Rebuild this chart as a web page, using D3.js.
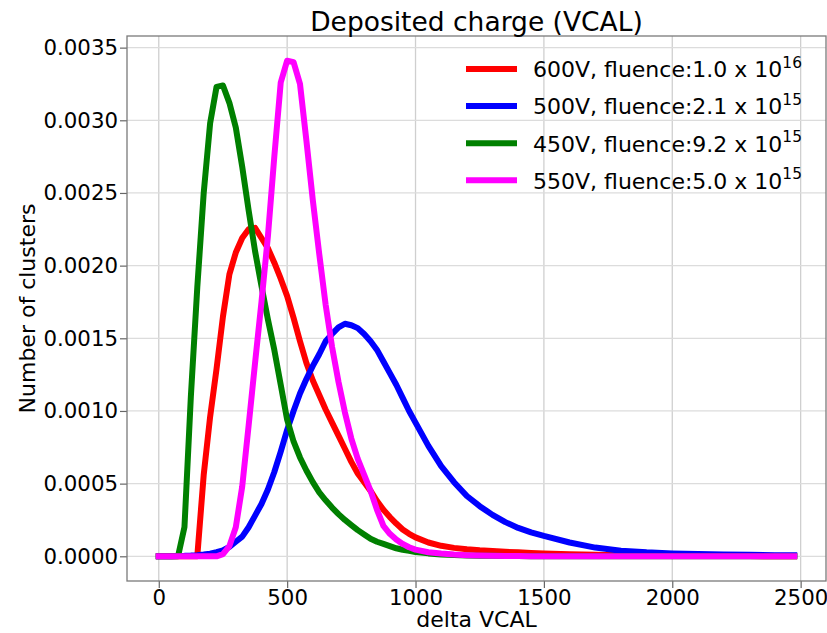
<!DOCTYPE html>
<html>
<head>
<meta charset="utf-8">
<script src="https://cdn.jsdelivr.net/npm/d3@7"></script>
<style>
  body { margin: 0; background: #fff; }
  svg text { font-family: "DejaVu Sans", sans-serif; fill: #000; }
</style>
</head>
<body>
<svg id="chart" width="827" height="633"></svg>
<script>
'use strict'

// delta VCAL sample points
const xBins = [0, 25, 50, 75, 100, 125, 150, 175, 200, 225, 250, 275, 300, 325, 350, 375, 400, 425, 450, 475,
  500, 525, 550, 575, 600, 625, 650, 675, 700, 725, 750, 775, 800, 825, 850, 875, 900, 925, 950, 975, 1000,
  1050, 1100, 1150, 1200, 1250, 1300, 1350, 1400, 1450, 1500,
  1600, 1700, 1800, 1900, 2000, 2100, 2200, 2300, 2400, 2475]

// number of clusters, in units of 1e-4
const v600 = [0, 0, 0, 0, 0, 0, 0, 5.6, 9.6, 12.9, 16.5, 19.4, 20.9, 21.9, 22.5, 22.6, 21.9, 21.2, 20.2, 19.1,
  17.9, 16.4, 14.8, 13.3, 12.1, 11.1, 10.1, 9.2, 8.3, 7.4, 6.5, 5.7, 5.1, 4.5, 3.8, 3.2, 2.7, 2.25, 1.85, 1.55, 1.3,
  0.95, 0.72, 0.58, 0.48, 0.41, 0.36, 0.31, 0.27, 0.23, 0.2,
  0.14, 0.1, 0.07, 0.05, 0.035, 0.025, 0.018, 0.012, 0.008, 0.006]
const v500 = [0, 0, 0.01, 0.02, 0.03, 0.05, 0.08, 0.12, 0.18, 0.28, 0.4, 0.65, 1.0, 1.35, 2.0, 2.8, 3.6, 4.6, 5.8, 7.2,
  8.7, 10.0, 11.2, 12.2, 13.1, 13.9, 14.8, 15.3, 15.75, 16.0, 15.9, 15.7, 15.3, 14.8, 14.2, 13.4, 12.6, 11.8, 10.9, 10.0, 9.2,
  7.6, 6.2, 5.1, 4.15, 3.45, 2.85, 2.35, 1.95, 1.65, 1.4,
  0.95, 0.6, 0.38, 0.27, 0.2, 0.15, 0.12, 0.1, 0.08, 0.07]
const v450 = [0, 0, 0, 0, 2.0, 11.0, 18.5, 25.0, 29.8, 32.3, 32.4, 31.2, 29.5, 26.8, 23.8, 21.0, 18.6, 16.3, 14.2, 11.8,
  9.4, 7.9, 6.8, 5.9, 5.1, 4.4, 3.85, 3.35, 2.9, 2.5, 2.15, 1.8, 1.5, 1.2, 1.0, 0.85, 0.7, 0.55, 0.45, 0.38, 0.3,
  0.2, 0.13, 0.09, 0.06, 0.04, 0.03, 0.02, 0.015, 0.01, 0.008,
  0.005, 0.003, 0.002, 0.001, 0.001, 0, 0, 0, 0, 0]
const v550 = [0, 0, 0, 0, 0, 0, 0, 0, 0, 0, 0.15, 0.7, 2.0, 4.8, 9.0, 13.3, 17.5, 22.0, 27.5, 32.6,
  34.1, 34.0, 32.5, 28.6, 24.5, 20.8, 17.3, 14.4, 12.0, 9.9, 8.1, 6.7, 5.6, 4.5, 3.2, 2.1, 1.55, 1.15, 0.85, 0.62, 0.46,
  0.28, 0.19, 0.12, 0.08, 0.05, 0.03, 0.02, 0.012, 0.008, 0.005,
  0.003, 0.002, 0.001, 0, 0, 0, 0, 0, 0, 0]

const seriesValues = [v600, v500, v450, v550]
const seriesLabels = ['600V, fluence:1.0 x 10', '500V, fluence:2.1 x 10', '450V, fluence:9.2 x 10', '550V, fluence:5.0 x 10']
const seriesExponents = ['16', '15', '15', '15']
const seriesColors = ['#ff0000', '#0000ff', '#008000', '#ff00ff']

const xTicks = [0, 500, 1000, 1500, 2000, 2500]
const yTicks = [0, 5, 10, 15, 20, 25, 30, 35]

const margin = { top: 36, right: 1, bottom: 52, left: 127 }
const width = 827 - margin.left - margin.right
const height = 633 - margin.top - margin.bottom

const svg = d3.select('#chart')
const g = svg.append('g').attr('transform', 'translate(' + margin.left + ',' + margin.top + ')')

// matplotlib style 5% margins
const x = d3.scaleLinear().domain([-123.75, 2598.75]).range([0, width])
const y = d3.scaleLinear().domain([-1.7, 35.8]).range([height, 0])

// grid
g.append('g').selectAll('line').data(xTicks).enter().append('line')
  .attr('x1', d => x(d)).attr('x2', d => x(d))
  .attr('y1', 0).attr('y2', height)
  .attr('stroke', '#cfcfcf').attr('stroke-width', 1.3)
g.append('g').selectAll('line').data(yTicks).enter().append('line')
  .attr('x1', 0).attr('x2', width)
  .attr('y1', d => y(d)).attr('y2', d => y(d))
  .attr('stroke', '#dcdcdc').attr('stroke-width', 1.3)

// axes
const xAxis = g.append('g').attr('transform', 'translate(0,' + height + ')')
  .call(d3.axisBottom(x).tickValues(xTicks).tickSize(7).tickPadding(2).tickFormat(d3.format('d')))
const yAxis = g.append('g')
  .call(d3.axisLeft(y).tickValues(yTicks).tickSize(7).tickPadding(2).tickFormat(d => (d / 1e4).toFixed(4)))
;[xAxis, yAxis].forEach(a => {
  a.selectAll('text').attr('font-size', 21.3).attr('font-family', '"DejaVu Sans", sans-serif').attr('fill', '#111')
  a.selectAll('line').attr('stroke', '#666').attr('stroke-width', 1.2)
  a.select('.domain').remove()
})

// spines
g.append('rect').attr('x', 0).attr('y', 0).attr('width', width).attr('height', height)
  .attr('fill', 'none').attr('stroke', '#7a7a7a').attr('stroke-width', 1.3)

// curves
const line = d3.line().x(d => x(d[0])).y(d => y(d[1]))
seriesValues.forEach((vals, i) => {
  g.append('path')
    .datum(xBins.map((xv, j) => [xv, vals[j]]))
    .attr('d', line)
    .attr('fill', 'none')
    .attr('stroke', seriesColors[i])
    .attr('stroke-width', 6)
    .attr('stroke-linecap', 'square')
    .attr('stroke-linejoin', 'round')
})

// title and labels
svg.append('text').attr('x', margin.left + width / 2).attr('y', 31)
  .attr('text-anchor', 'middle').attr('font-size', 26.5).text('Deposited charge (VCAL)')
svg.append('text').attr('x', margin.left + width / 2).attr('y', 627)
  .attr('text-anchor', 'middle').attr('font-size', 22).text('delta VCAL')
svg.append('text').attr('transform', 'translate(35,' + (margin.top + height / 2) + ') rotate(-90)')
  .attr('text-anchor', 'middle').attr('font-size', 22).text('Number of clusters')

// legend
const legend = svg.append('g')
seriesLabels.forEach((lab, i) => {
  const ly = 69 + i * 37.1
  legend.append('line').attr('x1', 466).attr('x2', 517).attr('y1', ly).attr('y2', ly)
    .attr('stroke', seriesColors[i]).attr('stroke-width', 6)
  const t = legend.append('text').attr('x', 533).attr('y', ly + 8.3).attr('font-size', 22).text(lab)
  t.append('tspan').attr('dy', -9.6).attr('font-size', 15.4).text(seriesExponents[i])
})
</script>
</body>
</html>
